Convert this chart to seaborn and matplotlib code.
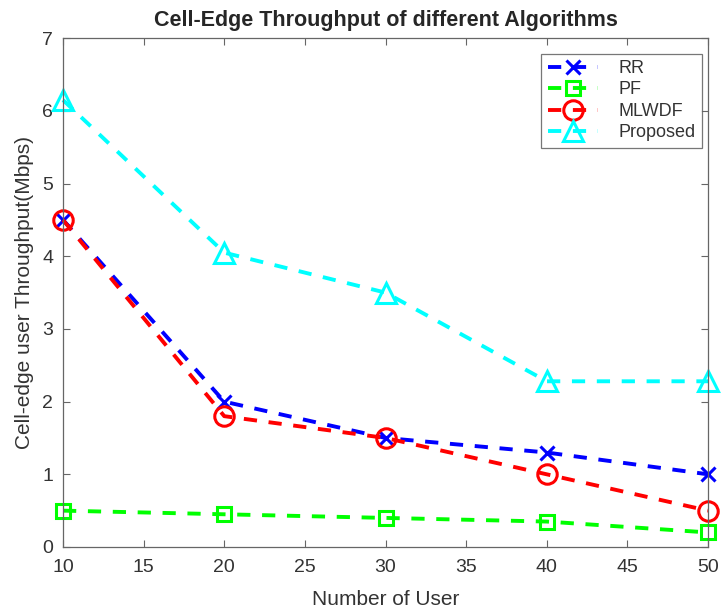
import matplotlib
matplotlib.use("Agg")
import matplotlib.pyplot as plt
import seaborn as sns
import pandas as pd

users = [10, 20, 30, 40, 50]
rr = [4.5, 2.0, 1.5, 1.3, 1.0]
pf = [0.5, 0.45, 0.4, 0.35, 0.2]
mlwdf = [4.5, 1.8, 1.5, 1.0, 0.5]
proposed = [6.15, 4.05, 3.5, 2.28, 2.28]

sns.set_style("white")
plt.rcParams['font.family'] = ['Liberation Sans', 'DejaVu Sans']

fig = plt.figure(figsize=(7.21, 6.10), dpi=100)
ax = fig.add_axes([0.0874, 0.1033, 0.8946, 0.834])

series = [
    ("RR", rr, "#0000ff", "x", 10),
    ("PF", pf, "#00ff00", "s", 10),
    ("MLWDF", mlwdf, "#ff0000", "o", 14),
    ("Proposed", proposed, "#00ffff", "^", 14),
]
for name, vals, col, mk, ms in series:
    df = pd.DataFrame({"x": users, "y": vals})
    sns.lineplot(data=df, x="x", y="y", ax=ax, color=col,
                 linestyle=(0, (3.4, 3.0)),
                 linewidth=2.8, marker=mk, markersize=ms, markerfacecolor="none",
                 markeredgecolor=col, markeredgewidth=2.2, label=name,
                 clip_on=False)

ax.set_xlim(10, 50)
ax.set_ylim(0, 7)
ax.set_xticks(range(10, 51, 5))
ax.set_yticks(range(0, 8))
for s in ax.spines.values():
    s.set_color("#666666")
    s.set_linewidth(0.9)
ax.tick_params(direction="in", length=5, labelsize=14, colors="#666666",
               labelcolor="#333333", top=True, right=True, bottom=True, left=True)
ax.tick_params(axis="x", pad=9)
ax.tick_params(axis="y", pad=7)
ax.set_xlabel("Number of User", fontsize=15, color="#333333", labelpad=10)
ax.set_ylabel("Cell-edge user Throughput(Mbps)", fontsize=15, color="#333333",
              labelpad=6)
ax.set_title("Cell-Edge Throughput of different Algorithms", fontsize=15.5,
             fontweight="bold", pad=9)
leg = ax.legend(loc="upper right", fontsize=13, frameon=True, fancybox=False,
                edgecolor="#555555", handlelength=2.8, borderpad=0.35,
                labelspacing=0.25, borderaxespad=0, handletextpad=1.1,
                bbox_to_anchor=(0.99, 0.97))
leg.get_frame().set_linewidth(0.9)
for t in leg.get_texts():
    t.set_color("#333333")

fig.savefig("out.png", dpi=100)
